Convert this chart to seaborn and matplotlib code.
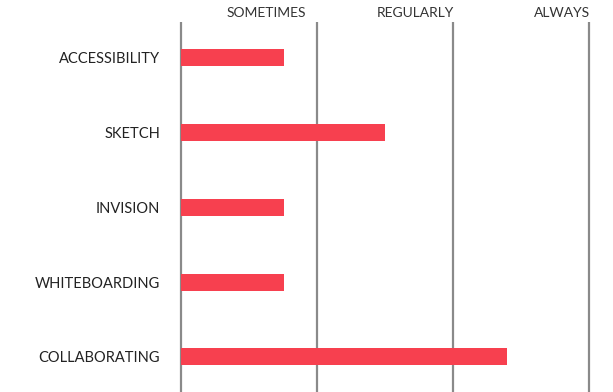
import matplotlib
matplotlib.use("Agg")
import matplotlib.pyplot as plt
import seaborn as sns
import pandas as pd

categories = ["ACCESSIBILITY", "SKETCH", "INVISION", "WHITEBOARDING", "COLLABORATING"]
values = [0.76, 1.5, 0.76, 0.76, 2.4]
level_ticks = [0, 1, 2, 3]
level_labels = ["SOMETIMES", "REGULARLY", "ALWAYS"]

sns.set_theme(style="white")
plt.rcParams['font.family'] = ['Lato', 'DejaVu Sans']

df = pd.DataFrame({"skill": categories, "value": values})

fig = plt.figure(figsize=(6.13, 3.92), dpi=100)
ax = fig.add_axes([0.2927, 0.0, 0.6793, 0.944])

sns.barplot(data=df, x="value", y="skill", orient="h", color="#F7404F",
            saturation=1, width=0.23, ax=ax, zorder=3, linewidth=0)

ax.set_xlim(-0.012, 3.05)
ax.set_ylim(4.47, -0.48)
ax.set_xticks(level_ticks)
ax.set_xticklabels([])
ax.tick_params(axis="x", length=0)
ax.grid(axis="x", color="#8a8a8a", linewidth=1.6, zorder=1)
ax.grid(axis="y", visible=False)
for s in ax.spines.values():
    s.set_visible(False)
ax.set_xlabel("")
ax.set_ylabel("")
ax.tick_params(axis="y", length=0, pad=14, labelsize=10.5, labelcolor="#222222")

label_x = [0.625, 1.72, 2.80]
for x, lab in zip(label_x, level_labels):
    ax.text(x, 1.0 + 9/370, lab, transform=ax.get_xaxis_transform(),
            ha="center", va="center", fontsize=10, color="#333333")

fig.savefig("out.png", dpi=100)
